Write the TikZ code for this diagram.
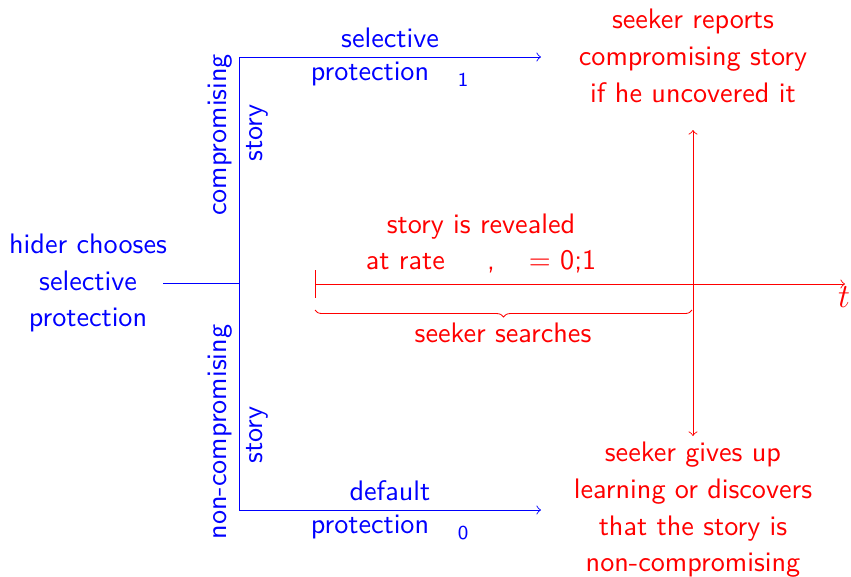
\documentclass[tikz,border=0pt]{standalone}
\usepackage{amsmath}
\usepackage{tikz}
\usetikzlibrary{decorations.pathreplacing}
\renewcommand{\familydefault}{\sfdefault}

\begin{document}
\begin{tikzpicture}[x=0.3546pt, y=-0.3546pt, font=\fontsize{10}{13}\selectfont, line width=0.3pt]
        \tikzstyle{hider} = [blue, align=center, inner sep=0pt]
        \tikzstyle{seeker} = [red, align=center, inner sep=0pt]
        \tikzstyle{branch} = [->, blue]
        \tikzstyle{timeline} = [red]
        \useasboundingbox (0,0) rectangle (851,576);

% hider side
\node[hider] (choice) at (88,283) {hider chooses\\selective\\protection};
        \coordinate (hiderout) at (163,283);
        \coordinate (split) at (239,283);
        \coordinate (top) at (239,57);
        \coordinate (bottom) at (239,510);
        \coordinate (topend) at (541,57);
        \coordinate (bottomend) at (541,510);

\node[hider, rotate=90] (comp) at (220,135) {compromising};
        \node[hider, rotate=90] (compstory) at (257,133) {story};
        \node[hider, rotate=90] (noncomp) at (220,432) {non-compromising};
        \node[hider, rotate=90] (noncompstory) at (257,435) {story};

\node[hider] (sel) at (390,38) {selective};
        \node[hider] (protsel) at (370,74) {protection};
        \node[hider, font=\scriptsize] (psel) at (463,80) {1};
        \node[hider] (def) at (390,491) {default};
        \node[hider] (protdef) at (370,527) {protection};
        \node[hider, font=\scriptsize] (pdef) at (463,533) {0};

\draw[blue] (hiderout) -- (split);
        \draw[blue] (top) -- (bottom);
        \draw[branch] (top) -- (topend);
        \draw[branch] (bottom) -- (bottomend);

% seeker side
\coordinate (start) at (315,284);
        \coordinate (tend) at (845,284);
        \coordinate (cross) at (693,284);
        \coordinate (reportpt) at (693,130);
        \coordinate (giveuppt) at (693,436);
        \coordinate (bracel) at (315,310);
        \coordinate (bracer) at (692,310);

\node[seeker] (reveal) at (481,227) {story is revealed};
        \node[seeker] (rate) at (481,262) {at rate\hspace{15pt},\hspace{12pt}= 0;1};
        \node[seeker] (report) at (693,56) {seeker reports\\compromising story\\if he uncovered it};
        \node[seeker] (giveup) at (693,510) {seeker gives up\\learning or discovers\\that the story is\\non-compromising};
        \node[seeker] (search) at (503,333) {seeker searches};
        \node[seeker, font=\large] (tlabel) at (844,297) {$t$};

\draw[timeline, ->] (start) -- (tend);
        \draw[timeline] (start) ++(0,-14) -- ++(0,28);
        \draw[timeline, <->] (reportpt) -- (giveuppt);
        \draw[timeline, decorate, decoration={brace, mirror, amplitude=2.5pt}] (bracel) -- (bracer);

    \end{tikzpicture}
\end{document}
